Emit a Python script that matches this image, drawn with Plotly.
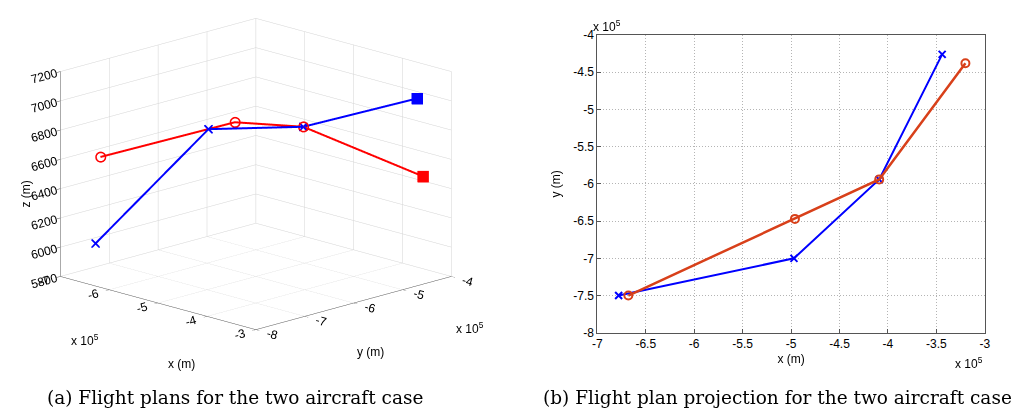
import plotly.graph_objects as go

# Flight plan waypoints (metres)
blue_x = [-678000, -497000, -409000, -344000]
blue_y = [-750000, -700000, -594000, -426000]
blue_z = [6000, 6900, 6900, 7000]

red_x = [-668000, -496000, -409000, -320000]
red_y = [-750000, -647000, -594000, -438000]
red_z = [6600, 6900, 6900, 6500]

x_ticks3d = [-700000, -600000, -500000, -400000, -300000]
x_ticktext3d = ["-7", "-6", "-5", "-4", "-3"]
y_ticks3d = [-800000, -700000, -600000, -500000, -400000]
y_ticktext3d = ["-8", "-7", "-6", "-5", "-4"]
z_ticks3d = [5800, 6000, 6200, 6400, 6600, 6800, 7000, 7200]

x_ticks2d = [-700000, -650000, -600000, -550000, -500000, -450000, -400000, -350000, -300000]
x_ticktext2d = ["-7", "-6.5", "-6", "-5.5", "-5", "-4.5", "-4", "-3.5", "-3"]
y_ticks2d = [-800000, -750000, -700000, -650000, -600000, -550000, -500000, -450000, -400000]
y_ticktext2d = ["-8", "-7.5", "-7", "-6.5", "-6", "-5.5", "-5", "-4.5", "-4"]

captions = ["(a) Flight plans for the two aircraft case",
            "(b) Flight plan projection for the two aircraft case"]

BLUE = "#0000ff"
RED3D = "#ff0000"
RED2D = "#d8401a"
FONT = "Liberation Sans, Arial, sans-serif"
W, H = 1029, 412
S = 1.58  # box scale
C = dict(x=0.047, y=0.047, z=-0.095)  # camera pan

fig = go.Figure()

# ---- 3D panel ----
fig.add_trace(go.Scatter3d(
    x=blue_x, y=blue_y, z=blue_z, mode="lines+markers",
    line=dict(color=BLUE, width=4),
    marker=dict(symbol="x", size=2, color=BLUE),
    showlegend=False))
fig.add_trace(go.Scatter3d(
    x=red_x, y=red_y, z=red_z, mode="lines+markers",
    line=dict(color=RED3D, width=4),
    marker=dict(symbol="circle-open", size=6, color=RED3D, line=dict(width=2, color=RED3D)),
    showlegend=False))
fig.add_trace(go.Scatter3d(
    x=[blue_x[-1]], y=[blue_y[-1]], z=[blue_z[-1]], mode="markers",
    marker=dict(symbol="square", size=6, color=BLUE), showlegend=False))
fig.add_trace(go.Scatter3d(
    x=[red_x[-1]], y=[red_y[-1]], z=[red_z[-1]], mode="markers",
    marker=dict(symbol="square", size=6, color=RED3D), showlegend=False))

# ---- 2D panel ----
fig.add_trace(go.Scatter(
    x=blue_x, y=blue_y, mode="lines+markers",
    line=dict(color=BLUE, width=2),
    marker=dict(symbol="x-thin", size=7, color=BLUE, line=dict(width=2, color=BLUE)),
    xaxis="x", yaxis="y", showlegend=False))
fig.add_trace(go.Scatter(
    x=red_x, y=red_y, mode="lines+markers",
    line=dict(color=RED2D, width=2.5),
    marker=dict(symbol="circle-open", size=8, color=RED2D, line=dict(width=2, color=RED2D)),
    xaxis="x", yaxis="y", showlegend=False))

axis3d = dict(showbackground=False, gridcolor="#d4d4d4", gridwidth=1,
              showline=True, linecolor="#555555", linewidth=1,
              zeroline=False, showspikes=False, ticks="outside", tickcolor="#555555",
              tickfont=dict(family=FONT, size=12, color="black"), title_text="")

fig.update_layout(
    width=W, height=H,
    margin=dict(l=0, r=0, t=0, b=0),
    paper_bgcolor="white", plot_bgcolor="white",
    font=dict(family=FONT, size=12, color="black"),
    scene=dict(
        domain=dict(x=[0.0, 0.5], y=[0.12, 1.0]),
        xaxis=dict(axis3d, range=[-700000, -300000], tickvals=x_ticks3d, ticktext=x_ticktext3d),
        yaxis=dict(axis3d, range=[-800000, -400000], tickvals=y_ticks3d, ticktext=y_ticktext3d),
        zaxis=dict(axis3d, range=[5800, 7200], tickvals=z_ticks3d),
        aspectmode="manual", aspectratio=dict(x=S, y=S, z=0.77 * S),
        camera=dict(projection=dict(type="orthographic"),
                    eye=dict(x=2.5 + C["x"], y=-2.5 + C["y"], z=1.0 + C["z"]),
                    center=C, up=dict(x=0, y=0, z=1)),
    ),
    xaxis=dict(domain=[0.574, 0.9546], range=[-700000, -300000], tickvals=x_ticks2d, ticktext=x_ticktext2d,
               showgrid=True, gridcolor="#b4b4b4", griddash="1px,2px", gridwidth=1,
               showline=True, linecolor="#555555", linewidth=1, mirror=True,
               ticks="inside", ticklen=4, tickcolor="#555555", zeroline=False,
               tickfont=dict(size=12), title=dict(text="x (m)", font=dict(size=12), standoff=4),
               anchor="y"),
    yaxis=dict(domain=[0.2015, 0.9498], range=[-800000, -400000], tickvals=y_ticks2d, ticktext=y_ticktext2d,
               showgrid=True, gridcolor="#b4b4b4", griddash="1px,2px", gridwidth=1,
               showline=True, linecolor="#555555", linewidth=1, mirror=True,
               ticks="inside", ticklen=4, tickcolor="#555555", zeroline=False,
               tickfont=dict(size=12), title=dict(text="y (m)", font=dict(size=12), standoff=10),
               anchor="x"),
)

def note(text, px, py, size=12, family=FONT, angle=0):
    fig.add_annotation(text=text, x=px / W, y=1 - py / H, xref="paper", yref="paper",
                       xanchor="center", yanchor="middle", showarrow=False, textangle=angle,
                       font=dict(size=size, family=family, color="black"))

note("x 10<sup>5</sup>", 600, 11)
note("x 10<sup>5</sup>", 966, 360)
note("x 10<sup>5</sup>", 73, 336)
note("x 10<sup>5</sup>", 462, 324)
note("x (m)", 170, 361)
note("y (m)", 361, 349)
note("z (m)", 13, 185, angle=-90)
note(captions[0], 224, 396, size=18.5, family="DejaVu Serif, serif")
note(captions[1], 773, 396, size=18.5, family="DejaVu Serif, serif")

fig.write_html("out.html")
